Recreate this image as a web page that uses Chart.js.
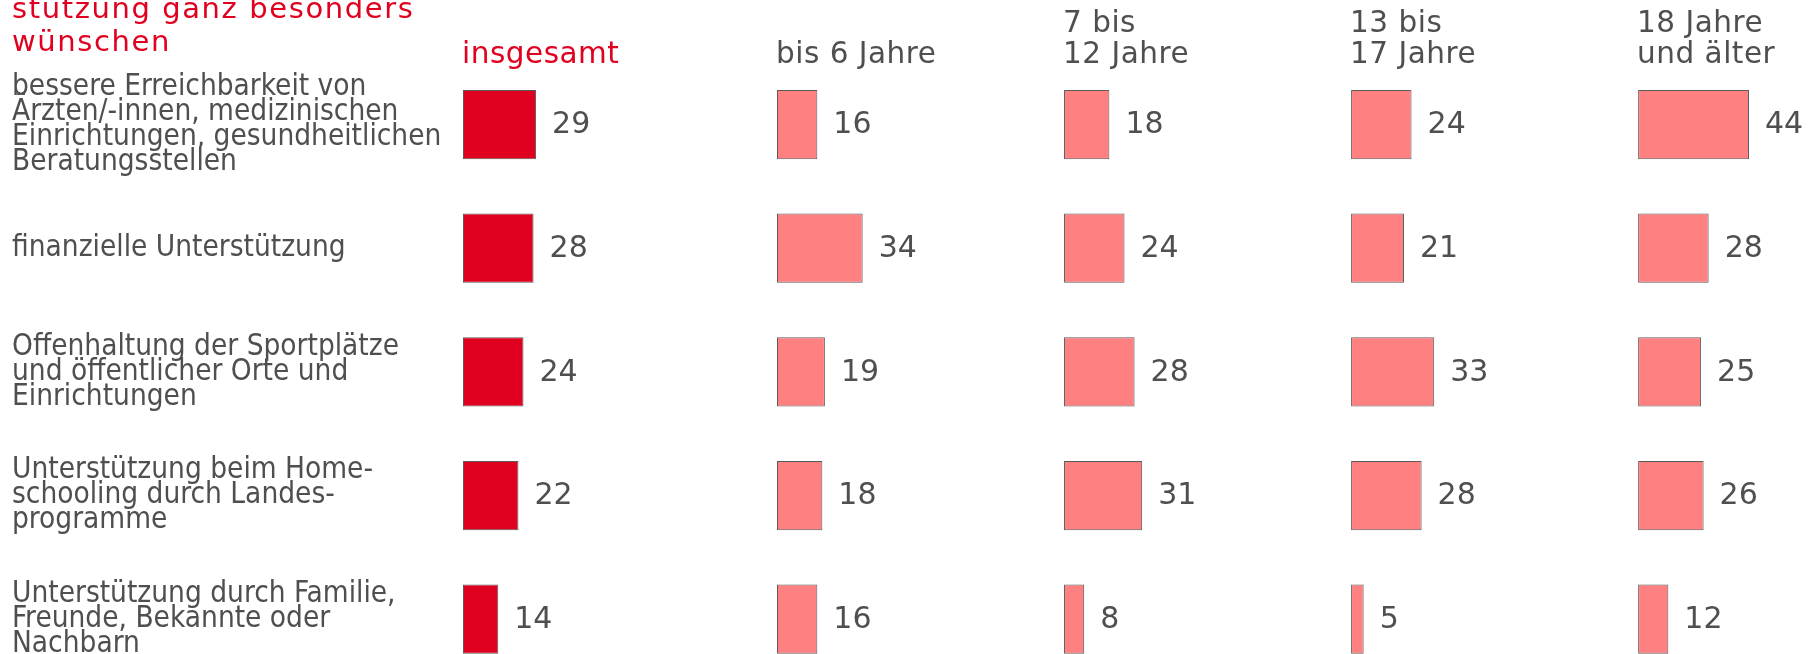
<!DOCTYPE html>
<html>
<head>
<meta charset="utf-8">
<script src="https://cdn.jsdelivr.net/npm/chart.js@4.4.1/dist/chart.umd.min.js"></script>
<style>
    html, body { margin: 0; padding: 0; background: #fff; overflow: hidden; }
    canvas { display: block; }
</style>
</head>
<body>
<canvas id="chart" width="1815" height="681"></canvas>
<script>
// Chart data
const categories = [
    ['bessere Erreichbarkeit von', 'Ärzten/-innen, medizinischen', 'Einrichtungen, gesundheitlichen', 'Beratungsstellen'],
    'finanzielle Unterstützung',
    ['Offenhaltung der Sportplätze', 'und öffentlicher Orte und', 'Einrichtungen'],
    ['Unterstützung beim Home-', 'schooling durch Landes-', 'programme'],
    ['Unterstützung durch Familie,', 'Freunde, Bekannte oder', 'Nachbarn']
];
const groupLabels = [['insgesamt'], ['bis 6 Jahre'], ['7 bis', '12 Jahre'], ['13 bis', '17 Jahre'], ['18 Jahre', 'und älter']];
const insgesamt = [29, 28, 24, 22, 14];
const bis6 = [16, 34, 19, 18, 16];
const bis12 = [18, 24, 28, 31, 8];
const bis17 = [24, 21, 33, 28, 5];
const ab18 = [44, 28, 25, 26, 12];
const titleLines = ['stützung ganz besonders', 'wünschen'];

const series = [insgesamt, bis6, bis12, bis17, ab18];

// Layout / style
const FONT = "'DejaVu Sans', 'Verdana', sans-serif";
const FONT_COND = "'DejaVu Sans Condensed', 'DejaVu Sans', sans-serif";
const RED = '#E0001F';
const SALMON = '#FF8080';
const TEXT = '#4F4F4F';
const colUnits = [124.6, 113.9, 113.9, 113.9, 70.2];   // width of each column, in value units

// Value labels right of every bar
const valueLabels = {
    id: 'valueLabels',
    afterDatasetsDraw(chart) {
        const ctx = chart.ctx;
        ctx.save();
        ctx.font = `30px ${FONT}`;
        ctx.fillStyle = TEXT;
        ctx.textAlign = 'left';
        ctx.textBaseline = 'middle';
        chart.data.datasets.forEach((ds, i) => {
            chart.getDatasetMeta(i).data.forEach((bar, j) => {
                ctx.fillText(String(ds.data[j]), bar.x + 16, bar.y + 1);
            });
        });
        ctx.restore();
    }
};

// Title and column headers
const headers = {
    id: 'headers',
    afterDraw(chart) {
        const ctx = chart.ctx;
        ctx.save();
        ctx.textAlign = 'left';
        ctx.textBaseline = 'alphabetic';

        ctx.letterSpacing = '1.6px';
        ctx.font = `29px ${FONT}`;
        ctx.fillStyle = RED;
        titleLines.forEach((line, k) => ctx.fillText(line, 12, 18 + k * 32.5));

        ctx.letterSpacing = '0.5px';
        ctx.font = `29.5px ${FONT}`;
        groupLabels.forEach((lines, i) => {
            const scale = chart.scales['x' + i];
            ctx.fillStyle = i === 0 ? RED : TEXT;
            const n = lines.length;
            lines.forEach((line, k) => {
                ctx.fillText(line, scale.left - 1, 62.5 - (n - 1 - k) * 30.5);
            });
        });
        ctx.restore();
    }
};

const scales = {
    y: {
        type: 'category',
        grid: { display: false },
        border: { display: false },
        ticks: {
            autoSkip: false,
            crossAlign: 'far',
            padding: 0,
            color: TEXT,
            font: { family: FONT_COND, size: 29.5, lineHeight: '25px' }
        },
        afterFit(scale) {
            scale.width = 451;
            // labels sit inside their rows, no overhang padding needed
            scale.paddingTop = 0;
            scale.paddingBottom = 0;
        }
    }
};
series.forEach((s, i) => {
    scales['x' + i] = {
        type: 'linear',
        position: 'bottom',
        stack: 'cols',
        stackWeight: colUnits[i],
        min: 0,
        max: colUnits[i],
        grid: { display: false, drawTicks: false },
        border: { display: false },
        ticks: { display: false },
        afterFit(scale) { scale.height = 0; }
    };
});

const ctx = document.getElementById('chart').getContext('2d');
new Chart(ctx, {
    type: 'bar',
    data: {
        labels: categories,
        datasets: series.map((s, i) => ({
            data: s,
            xAxisID: 'x' + i,
            backgroundColor: i === 0 ? RED : SALMON,
            borderColor: '#5A5A5A',
            borderWidth: 1,
            borderSkipped: false,
            grouped: false,
            barPercentage: 1,
            categoryPercentage: 0.56
        }))
    },
    options: {
        indexAxis: 'y',
        responsive: false,
        animation: false,
        devicePixelRatio: 1,
        layout: { padding: { left: 12, top: 62.7, right: 0, bottom: 0 } },
        plugins: {
            legend: { display: false },
            tooltip: { enabled: false }
        },
        scales: scales
    },
    plugins: [valueLabels, headers]
});
</script>
</body>
</html>
